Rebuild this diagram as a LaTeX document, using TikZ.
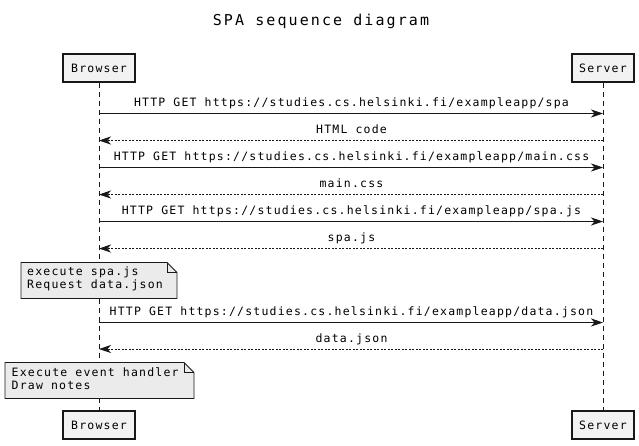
\documentclass[tikz,border=0pt]{standalone}
\usepackage{fontspec}
\usetikzlibrary{arrows.meta}
\newfontfamily\umlfont{DejaVu Sans Mono}[LetterSpace=10.4]
\newfontfamily\umltitlefont{DejaVu Sans Mono}[LetterSpace=14]
\definecolor{ln}{HTML}{181818}
\definecolor{boxfill}{HTML}{F2F2F2}
\definecolor{notefill}{HTML}{EBEBEB}
\tikzset{
  part/.style={draw=ln, line width=1.1pt, fill=boxfill, minimum height=28pt,
    inner sep=0pt, font=\umlfont\fontsize{11.5}{13}\selectfont},
  life/.style={draw=ln, line width=0.8pt, dash pattern=on 5pt off 4pt},
  req/.style={draw=ln, line width=0.9pt, -{Stealth[length=12pt, width=8pt, inset=3.5pt]}},
  resp/.style={draw=ln, line width=0.8pt, dash pattern=on 2pt off 1.5pt, -{Stealth[length=12pt, width=8pt, inset=3.5pt]}},
  lbl/.style={anchor=base, inner sep=0pt, font=\umlfont\fontsize{11.5}{13}\selectfont},
  notebox/.style={draw=ln, line width=0.8pt, fill=notefill},
  notetxt/.style={anchor=base west, inner sep=0pt, font=\umlfont\fontsize{11.5}{13}\selectfont},
  titletxt/.style={anchor=base, inner sep=0pt, font=\umltitlefont\fontsize{15}{18}\selectfont}
}
\begin{document}
\begin{tikzpicture}[x=1pt, y=-1pt]
\useasboundingbox (0,0) rectangle (639,445);
\node[titletxt] (title) at (321,25) {SPA sequence diagram};
% participants
\node[part, minimum width=72pt] (bt) at (99,68) {Browser};
\node[part, minimum width=62pt] (st) at (603,68) {Server};
\node[part, minimum width=72pt] (bb) at (99,425) {Browser};
\node[part, minimum width=62pt] (sb) at (603,425) {Server};
\draw[life] (bt.south) -- (bb.north);
\draw[life] (st.south) -- (sb.north);
% message anchors
\foreach \i/\y in {1/113.5, 2/140.5, 3/167.5, 4/194.5, 5/221.5, 6/248.5, 7/322.5, 8/349} {
  \coordinate (b\i) at (99,\y);
  \coordinate (s\i) at (603,\y);
}
\draw[req] (b1) -- (s1);
\node[lbl] (l1) at (351.5,106.8) {HTTP GET https://studies.cs.helsinki.fi/exampleapp/spa};
\draw[resp] (s2) -- (b2);
\node[lbl] (l2) at (351.5,133.8) {HTML code};
\draw[req] (b3) -- (s3);
\node[lbl] (l3) at (351.5,160.8) {HTTP GET https://studies.cs.helsinki.fi/exampleapp/main.css};
\draw[resp] (s4) -- (b4);
\node[lbl] (l4) at (351.5,187.8) {main.css};
\draw[req] (b5) -- (s5);
\node[lbl] (l5) at (351.5,214.8) {HTTP GET https://studies.cs.helsinki.fi/exampleapp/spa.js};
\draw[resp] (s6) -- (b6);
\node[lbl] (l6) at (351.5,241.8) {spa.js};
% note 1
\draw[notebox] (21,262.5) -- (167,262.5) -- (177,272.5) -- (177,298.5) -- (21,298.5) -- cycle;
\draw[ln, line width=0.8pt] (167,262.5) -- (167,272.5) -- (177,272.5);
\node[notetxt] (n1a) at (27,275.5) {execute spa.js};
\node[notetxt] (n1b) at (27,288.7) {Request data.json};
\draw[req] (b7) -- (s7);
\node[lbl] (l7) at (351.5,315.8) {HTTP GET https://studies.cs.helsinki.fi/exampleapp/data.json};
\draw[resp] (s8) -- (b8);
\node[lbl] (l8) at (351.5,342.3) {data.json};
% note 2
\draw[notebox] (5,362.5) -- (184,362.5) -- (194,372.5) -- (194,398.5) -- (5,398.5) -- cycle;
\draw[ln, line width=0.8pt] (184,362.5) -- (184,372.5) -- (194,372.5);
\node[notetxt] (n2a) at (11.5,376.5) {Execute event handler};
\node[notetxt] (n2b) at (11.5,389.7) {Draw notes};
\end{tikzpicture}
\end{document}
